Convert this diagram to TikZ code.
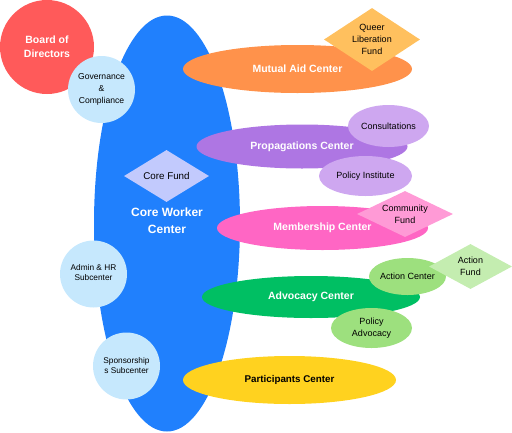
\documentclass[tikz,border=0pt]{standalone}
\usepackage{fontspec}
\setmainfont{Liberation Sans}
\usetikzlibrary{shapes.geometric}

\definecolor{coreblue}{HTML}{2080FD}
\definecolor{boardred}{HTML}{FF5A5A}
\definecolor{subblue}{HTML}{C6E8FD}
\definecolor{fundlav}{HTML}{C2CAFD}
\definecolor{aidorange}{HTML}{FF924B}
\definecolor{queerorange}{HTML}{FFC05E}
\definecolor{propurple}{HTML}{AE76E3}
\definecolor{lightpurple}{HTML}{CEA7F0}
\definecolor{memberpink}{HTML}{FF66C4}
\definecolor{lightpink}{HTML}{FF9AD6}
\definecolor{advgreen}{HTML}{00BF63}
\definecolor{lightgreen}{HTML}{9DE07E}
\definecolor{palegreen}{HTML}{C4EDB0}
\definecolor{partyellow}{HTML}{FFD21F}

\begin{document}
\begin{tikzpicture}[x=1pt,y=-1pt,
    big/.style={font=\bfseries\fontsize{10.5}{14}\selectfont, text=white, align=center},
    small/.style={font=\fontsize{9}{12}\selectfont, align=center},
    tiny/.style={font=\fontsize{8.3}{10}\selectfont, align=center}]

    \useasboundingbox (0,0) rectangle (512,432);

    % core worker center
    \node[ellipse,
          fill = coreblue,
          inner sep = 0pt,
          minimum width = 146pt,
          minimum height = 416pt
          ] (core) at (167,223.5) {};
    \node[big, font=\bfseries\fontsize{12}{17}\selectfont] at ([yshift=3pt]core.center) {Core Worker\\Center};

    \node[circle,
          fill = boardred,
          inner sep = 0pt,
          minimum size = 94pt
          ] (board) at (47,47) {};
    \node[big] at (board.center) {Board of\\Directors};

    \node[circle,
          fill = subblue,
          inner sep = 0pt,
          minimum size = 67pt
          ] (gov) at (101.5,89.5) {};
    \node[small, font=\fontsize{8.6}{11.7}\selectfont] at (gov.center) {Governance\\\&\\Compliance};

    \node[circle,
          fill = subblue,
          inner sep = 0pt,
          minimum size = 67pt
          ] (admin) at (93.5,274) {};
    \node[tiny] at ([yshift=1pt]admin.center) {Admin \& HR\\Subcenter};

    \node[circle,
          fill = subblue,
          inner sep = 0pt,
          minimum size = 67pt
          ] (spons) at (126.5,366) {};
    \node[tiny] at (spons.center) {Sponsorship\\s Subcenter};

    \node[diamond,
          fill = fundlav,
          inner sep = 0pt,
          minimum width = 85pt,
          minimum height = 52pt
          ] (corefund) at (166.5,176) {};
    \node[small, font=\fontsize{9.8}{12}\selectfont] at (corefund.center) {Core Fund};

    % mutual aid
    \node[ellipse,
          fill = aidorange,
          inner sep = 0pt,
          minimum width = 229pt,
          minimum height = 48pt
          ] (aid) at (297.5,69) {};
    \node[big] at (aid.center) {Mutual Aid Center};

    \node[diamond,
          fill = queerorange,
          inner sep = 0pt,
          minimum width = 96pt,
          minimum height = 63pt
          ] (queer) at (372,39.5) {};
    \node[small] at (queer.center) {Queer\\Liberation\\Fund};

    % propagations
    \node[ellipse,
          fill = propurple,
          inner sep = 0pt,
          minimum width = 211pt,
          minimum height = 44pt
          ] (prop) at (302,146.5) {};
    \node[big] at (prop.center) {Propagations Center};

    \node[ellipse,
          fill = lightpurple,
          inner sep = 0pt,
          minimum width = 81pt,
          minimum height = 42pt
          ] (consult) at (388.5,126) {};
    \node[small] at (consult.center) {Consultations};

    \node[ellipse,
          fill = lightpurple,
          inner sep = 0pt,
          minimum width = 93pt,
          minimum height = 40pt
          ] (polinst) at (365.5,176) {};
    \node[small] at (polinst.center) {Policy Institute};

    % membership
    \node[ellipse,
          fill = memberpink,
          inner sep = 0pt,
          minimum width = 211pt,
          minimum height = 44pt
          ] (member) at (322.5,228) {};
    \node[big] at (member.center) {Membership Center};

    \node[diamond,
          fill = lightpink,
          inner sep = 0pt,
          minimum width = 96pt,
          minimum height = 46pt
          ] (commfund) at (405,214) {};
    \node[small] at (commfund.center) {Community\\Fund};

    % advocacy
    \node[ellipse,
          fill = advgreen,
          inner sep = 0pt,
          minimum width = 218pt,
          minimum height = 42pt
          ] (advoc) at (311,297) {};
    \node[big] at (advoc.center) {Advocacy Center};

    \node[ellipse,
          fill = lightgreen,
          inner sep = 0pt,
          minimum width = 77pt,
          minimum height = 37pt
          ] (action) at (407.5,276.5) {};
    \node[small] at (action.center) {Action Center};

    \node[diamond,
          fill = palegreen,
          inner sep = 0pt,
          minimum width = 83pt,
          minimum height = 45pt
          ] (actfund) at (470.5,266.5) {};
    \node[small] at (actfund.center) {Action\\Fund};

    \node[ellipse,
          fill = lightgreen,
          inner sep = 0pt,
          minimum width = 81pt,
          minimum height = 40pt
          ] (poladv) at (371.5,328) {};
    \node[small] at (poladv.center) {Policy\\Advocacy};

    % participants
    \node[ellipse,
          fill = partyellow,
          inner sep = 0pt,
          minimum width = 213pt,
          minimum height = 48pt
          ] (part) at (289.5,380) {};
    \node[big, text=black, font=\bfseries\fontsize{9.8}{12}\selectfont] at (part.center) {Participants Center};

\end{tikzpicture}
\end{document}
